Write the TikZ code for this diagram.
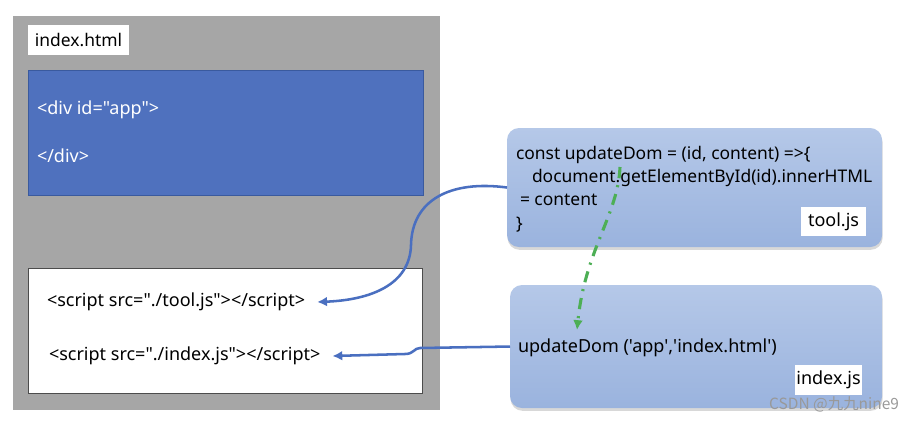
\documentclass[tikz,border=0pt]{standalone}
\usepackage{fontspec}
\setmainfont{Noto Sans}[Ligatures=TeXOff]
\newfontfamily\cjk{Noto Sans CJK SC}
\usetikzlibrary{shadows,arrows.meta}

\definecolor{grayback}{HTML}{A6A6A6}
\definecolor{appblue}{HTML}{4F71BE}
\definecolor{appedge}{HTML}{3A5A9E}
\definecolor{jstop}{HTML}{B5C8E8}
\definecolor{jsbot}{HTML}{9AB3DE}
\definecolor{linkblue}{HTML}{4A6FC0}
\definecolor{callgreen}{HTML}{4DAF55}

\begin{document}
\begin{tikzpicture}[x=0.025cm, y=-0.025cm,
  every node/.style={inner sep=0pt, outer sep=0pt, font=\fontsize{12.8}{16.5}\selectfont},
  codeline/.style={anchor=west, align=left},
  jsbox/.style={anchor=north west, rounded corners=0.3cm, top color=jstop, bottom color=jsbot,
    drop shadow={shadow xshift=0.4pt, shadow yshift=-2pt, opacity=0.3}},
  tagbox/.style={anchor=north west, fill=white},
  link/.style={linkblue, line width=1.8pt, -{Latex[length=7pt,width=7pt]}},
  call/.style={callgreen, line width=2.2pt, dash pattern=on 8pt off 5pt on 1.5pt off 5pt, -{Latex[length=7pt,width=7pt]}}]
\fill[white] (0,0) rectangle (902,422);

% index.html
\fill[grayback] (13,16) rectangle (440,410);
\node[tagbox, minimum width=2.525cm, minimum height=0.75cm, font=\fontsize{12.4}{15}\selectfont] (htmltag) at (28,25) {index.html};
\draw[appedge, fill=appblue] (28,70) rectangle (423,195);
\node[codeline, text=white] (divopen) at (37,110) {<div id="app">};
\node[codeline, text=white] (divclose) at (37,156) {</div>};
\draw[black!70, fill=white] (28,268) rectangle (422,393);
\node[codeline] (scrtool) at (47,302) {<script src="./tool.js"></script>};
\node[codeline] (scridx) at (49,356) {<script src="./index.js"></script>};

% tool.js
\node[jsbox, minimum width=9.375cm, minimum height=2.975cm] (tool) at (507,128) {};
\node[codeline, font=\fontsize{12.4}{16.5}\selectfont] (toolcode) at (516,189) {const updateDom = (id, content) =>\{\\
\hspace*{0.4cm}document.getElementById(id).innerHTML\\
\hspace*{0.1cm}= content\\
\}};
\node[tagbox, minimum width=1.625cm, minimum height=0.725cm] (tooltag) at (801,207) {tool.js};

% index.js
\node[jsbox, minimum width=9.3cm, minimum height=3.075cm] (idx) at (510,285) {};
\node[codeline] (upd) at (518,348) {updateDom ('app','index.html')};
\node[tagbox, minimum width=1.675cm, minimum height=0.75cm] (idxtag) at (795,365) {index.js};

% links
\draw[link] (tool.west) .. controls (450,180) and (412,200) .. (411,245)
  .. controls (410,285) and (370,300) .. ([xshift=0.3cm]scrtool.east);
\draw[link] (idx.west) -- (420,348) .. controls (414,348) and (414,354) .. (405,354)
  -- ([xshift=0.3cm]scridx.east);
\coordinate (callsrc) at (620,167);
\coordinate (calldst) at (577,330);
\draw[call] (callsrc) .. controls (618,215) and (585,250) .. (calldst);

\node[text=black!40, font=\cjk\fontsize{11}{13}\selectfont, anchor=east] (mark) at (899,404) {CSDN @九九nine9};
\end{tikzpicture}
\end{document}
